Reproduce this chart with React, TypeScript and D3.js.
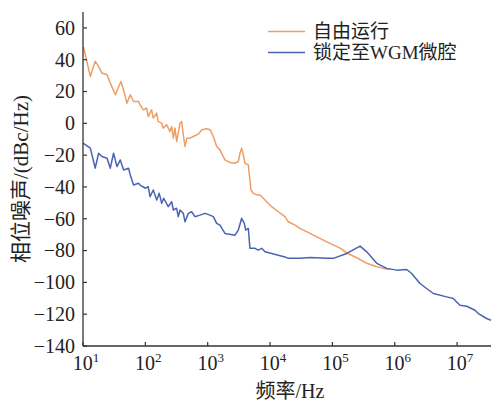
import React, { useEffect, useRef } from "react";
import * as d3 from "d3";

// free-running laser phase noise (Hz, dBc/Hz)
const freeFreq = [10.2, 13.1, 15.7, 17.8, 20.1, 24.3, 27.4, 33, 40.6, 44.8, 50.7, 57.3, 64.7, 77.8, 82, 92.7, 105, 111, 126, 134, 152, 161, 183, 194, 220, 248, 265, 281, 299, 318, 360, 383, 406, 433, 461, 520, 587, 707, 801, 964, 1089, 1231, 1394, 1574, 1893, 2278, 2740, 3097, 3296, 3509, 3724, 3965, 4479, 4948, 5384, 6103, 6897, 7795, 8835, 10620, 13550, 17370, 19620, 25140, 30230, 49630, 81300, 132800, 170100, 260000, 355700, 500000, 656000, 841000];
const freeNoise = [48, 29.5, 39, 35.8, 31.6, 30.6, 25.3, 18, 26.3, 21, 12.7, 18, 13.7, 13.7, 11.7, 8.5, 9.6, 4.3, 8.5, 3.3, 6.4, 1.1, 0.1, -3, -0.9, -5.2, -2, -9.3, -3, -11.5, 0.1, 1.1, -7.2, -14.6, -9.3, -9.3, -8.3, -6.8, -4, -3.4, -4, -8.3, -14.6, -16.7, -23, -24.7, -25.1, -24, -18.8, -15.6, -19.8, -25.1, -26.1, -41.9, -44, -45, -45, -47.1, -49.3, -52.4, -55.6, -58.7, -61.9, -64, -66, -70.3, -74.5, -78.5, -81.5, -85, -88, -90, -91.2, -91.8];

// locked to WGM micro-cavity
const lockFreq = [10, 13.1, 14.8, 15.7, 17.8, 20.1, 24.3, 27.4, 30.9, 35.1, 39.6, 44.8, 53.8, 57.3, 64.7, 77.8, 82, 101, 111, 119, 134, 152, 167, 183, 197, 233, 265, 281, 318, 337, 360, 406, 433, 489, 553, 625, 752, 905, 1089, 1231, 1394, 1574, 1893, 2740, 3097, 3509, 3866, 4066, 4479, 4764, 5736, 6486, 7350, 8300, 10620, 13550, 17370, 19620, 30230, 43950, 81300, 103700, 170100, 278000, 355700, 515000, 745000, 1077000, 1556000, 1872000, 2540000, 4160000, 6810000, 8690000, 11100000, 14250000, 19400000, 21900000, 29800000, 35000000];
const lockNoise = [-12.5, -15.6, -24, -28.2, -18.8, -20.9, -21.9, -28.2, -18.8, -27.2, -23, -29.3, -28.2, -32.5, -38.8, -37.7, -38.8, -40.8, -39.8, -46.1, -41.9, -48.2, -44, -50.3, -47.1, -52.4, -49.3, -54.5, -53.4, -58.7, -54.5, -56.6, -61.9, -56.6, -55.6, -58.7, -57.7, -56.6, -57.7, -58.7, -62.9, -64, -69.2, -70.3, -67.1, -59.7, -62.9, -67.1, -66, -78.6, -78.6, -79.7, -78.6, -80.8, -81.8, -82.9, -84, -84.9, -84.9, -84.3, -84.9, -84.9, -81.8, -77.2, -80.8, -88, -91.2, -92.3, -91.9, -94.4, -100.7, -107, -109.1, -110.1, -114.4, -115, -117.5, -119.6, -122.7, -123.8];

const yTicks = [60, 40, 20, 0, -20, -40, -60, -80, -100, -120, -140];
const xExponents = [1, 2, 3, 4, 5, 6, 7];
const seriesNames = ["自由运行", "锁定至WGM微腔"];
const seriesColors = ["#ef9d66", "#4a63b3"];

const W = 492;
const H = 402;
const left = 83;
const right = 491;
const top = 12;
const bottom = 346;
const font = "'Liberation Serif', 'Times New Roman', 'Noto Sans CJK SC', serif";

export default function App() {
  const ref = useRef<SVGSVGElement>(null);

  useEffect(() => {
    const svg = d3.select(ref.current);
    svg.selectAll("*").remove();

    const x = d3.scaleLog().domain([10, 3.5e7]).range([left, right]);
    const y = d3.scaleLinear().domain([-140, 70]).range([bottom, top]);

    const line = d3
      .line<[number, number]>()
      .x((d) => x(d[0]))
      .y((d) => y(d[1]));

    const series = [
      d3.zip(freeFreq, freeNoise) as [number, number][],
      d3.zip(lockFreq, lockNoise) as [number, number][],
    ];

    series.forEach((s, i) => {
      svg.append("path")
        .datum(s)
        .attr("fill", "none")
        .attr("stroke", seriesColors[i])
        .attr("stroke-width", 1.5)
        .attr("stroke-linejoin", "round")
        .attr("d", line);
    });

    // y axis
    const gy = svg.append("g").attr("transform", `translate(${left},0)`);
    gy.append("line")
      .attr("y1", top).attr("y2", bottom)
      .attr("stroke", "#333").attr("stroke-width", 1.3);
    yTicks.forEach((t) => {
      gy.append("line")
        .attr("x1", 0).attr("x2", 4)
        .attr("y1", y(t)).attr("y2", y(t))
        .attr("stroke", "#333").attr("stroke-width", 1.2);
      gy.append("text")
        .attr("x", -8).attr("y", y(t))
        .attr("dy", "0.34em")
        .attr("text-anchor", "end")
        .attr("font-size", 20)
        .attr("fill", "#222")
        .text(d3.format("d")(t));
    });

    // x axis
    const gx = svg.append("g").attr("transform", `translate(0,${bottom})`);
    gx.append("line")
      .attr("x1", left).attr("x2", right)
      .attr("stroke", "#333").attr("stroke-width", 1.3);
    xExponents.forEach((e) => {
      const px = x(Math.pow(10, e));
      gx.append("line")
        .attr("x1", px).attr("x2", px)
        .attr("y1", 0).attr("y2", -4)
        .attr("stroke", "#333").attr("stroke-width", 1.2);
      const t = gx.append("text")
        .attr("x", px + 3).attr("y", 24)
        .attr("text-anchor", "middle")
        .attr("font-size", 20)
        .attr("fill", "#222");
      t.append("tspan").text("10");
      t.append("tspan").attr("dy", -8).attr("font-size", 13).text(String(e));
    });

    // axis titles
    svg.append("text")
      .attr("x", 290).attr("y", 398)
      .attr("text-anchor", "middle")
      .attr("font-size", 20)
      .attr("fill", "#222")
      .text("频率/Hz");
    svg.append("text")
      .attr("transform", `translate(28,${(top + bottom) / 2}) rotate(-90)`)
      .attr("text-anchor", "middle")
      .attr("font-size", 21)
      .attr("fill", "#222")
      .text("相位噪声/(dBc/Hz)");

    // legend
    seriesNames.forEach((name, i) => {
      const ly = 31.5 + i * 21;
      svg.append("line")
        .attr("x1", 268).attr("x2", 305)
        .attr("y1", ly).attr("y2", ly)
        .attr("stroke", seriesColors[i]).attr("stroke-width", 1.5);
      svg.append("text")
        .attr("x", 313).attr("y", ly)
        .attr("dy", "0.36em")
        .attr("font-size", 19)
        .attr("fill", "#222")
        .text(name);
    });
  }, []);

  return (
    <svg
      ref={ref}
      width={W}
      height={H}
      style={{ position: "absolute", left: 0, top: 0, fontFamily: font, background: "#fff" }}
    />
  );
}
